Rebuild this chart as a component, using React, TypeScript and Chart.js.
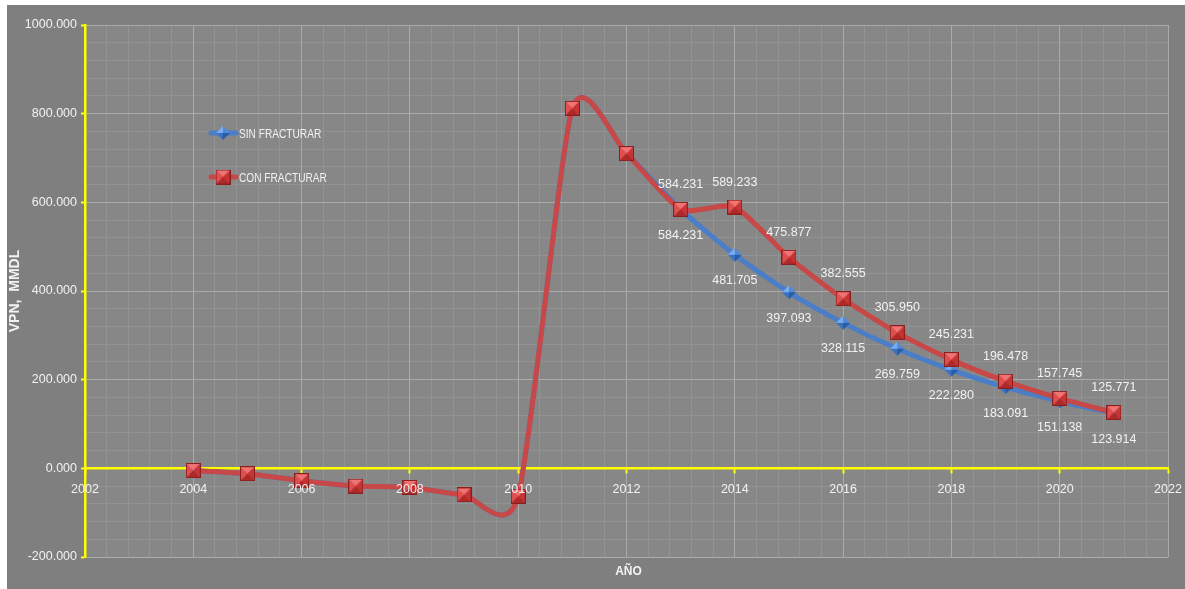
import React, { useEffect, useRef } from "react";
import { Chart, registerables } from "chart.js";
Chart.register(...registerables);

const years = [2004, 2005, 2006, 2007, 2008, 2009, 2010, 2011, 2012, 2013, 2014, 2015, 2016, 2017, 2018, 2019, 2020, 2021];
const sinFracturar = [-5, -12, -28, -40, -43, -60, -63, 812, 710, 584.231, 481.705, 397.093, 328.115, 269.759, 222.28, 183.091, 151.138, 123.914];
const conFracturar = [-5, -12, -28, -40, -43, -60, -63, 812, 710, 584.231, 589.233, 475.877, 382.555, 305.95, 245.231, 196.478, 157.745, 125.771];
const seriesNames = ["SIN FRACTURAR", "CON FRACTURAR"];
const labelFromYear = 2013;
const xMin = 2002, xMax = 2022, xStep = 2, xMinorStep = 0.4;
const yMin = -200, yMax = 1000, yStep = 200, yMinorStep = 40;
const xTitle = "AÑO";
const yTitle = "VPN,  MMDL";

const RED = "#c84848";
const BLUE = "#4a7ec8";
const YELLOW = "#ffff00";
const TEXT = "#f2f2f2";
const FONT = "'Liberation Sans', Arial, sans-serif";
const SMOOTH = 0.11; // Excel-like smoothing (uniform Catmull-Rom factor)

function makeSquare(): HTMLCanvasElement {
  const s = 15;
  const c = document.createElement("canvas");
  c.width = s; c.height = s;
  const g = c.getContext("2d")!;
  const m = s / 2;
  const tri = (pts: number[][], col: string) => {
    g.beginPath();
    g.moveTo(pts[0][0], pts[0][1]);
    for (let i = 1; i < pts.length; i++) g.lineTo(pts[i][0], pts[i][1]);
    g.closePath();
    g.fillStyle = col;
    g.fill();
  };
  tri([[0, 0], [s, 0], [m, m]], "#f27373");
  tri([[0, 0], [0, s], [m, m]], "#e04e4e");
  tri([[s, 0], [s, s], [m, m]], "#c83434");
  tri([[0, s], [s, s], [m, m]], "#b02828");
  g.strokeStyle = "#8a1f1f";
  g.lineWidth = 1;
  g.strokeRect(0.5, 0.5, s - 1, s - 1);
  return c;
}

function makeDiamond(): HTMLCanvasElement {
  const s = 14;
  const c = document.createElement("canvas");
  c.width = s; c.height = s;
  const g = c.getContext("2d")!;
  const m = s / 2;
  const tri = (pts: number[][], col: string) => {
    g.beginPath();
    g.moveTo(pts[0][0], pts[0][1]);
    for (let i = 1; i < pts.length; i++) g.lineTo(pts[i][0], pts[i][1]);
    g.closePath();
    g.fillStyle = col;
    g.fill();
  };
  tri([[m, 0], [0, m], [m, m]], "#78aef0");
  tri([[m, 0], [s, m], [m, m]], "#4f8ad8");
  tri([[0, m], [m, s], [m, m]], "#3a72c0");
  tri([[s, m], [m, s], [m, m]], "#2a5ca6");
  return c;
}

export default function App() {
  const ref = useRef<HTMLCanvasElement | null>(null);

  useEffect(() => {
    if (!ref.current) return;
    const square = makeSquare();
    const diamond = makeDiamond();

    const bgPlugin = {
      id: "bgPlugin",
      beforeDraw(chart: any) {
        const { ctx, chartArea, width, height } = chart;
        ctx.save();
        ctx.fillStyle = "#7f7f7f";
        ctx.fillRect(0, 0, width, height);
        ctx.fillStyle = "#878787";
        ctx.fillRect(chartArea.left, chartArea.top, chartArea.right - chartArea.left, chartArea.bottom - chartArea.top);
        ctx.restore();
      },
    };

    const smoothPlugin = {
      id: "smoothPlugin",
      beforeDatasetDraw(chart: any, args: any) {
        const meta = args.meta;
        const pts = meta.data;
        const n = pts.length;
        for (let i = 0; i < n; i++) {
          const p = pts[i];
          const prev = pts[Math.max(0, i - 1)];
          const next = pts[Math.min(n - 1, i + 1)];
          const dx = (next.x - prev.x) * SMOOTH;
          const dy = (next.y - prev.y) * SMOOTH;
          p.cp1x = p.x - dx;
          p.cp1y = p.y - dy;
          p.cp2x = p.x + dx;
          p.cp2y = p.y + dy;
        }
        if (meta.dataset) meta.dataset._pointsUpdated = true;
      },
    };

    const labelPlugin = {
      id: "labelPlugin",
      afterDatasetsDraw(chart: any) {
        const { ctx } = chart;
        ctx.save();
        ctx.font = `12.5px ${FONT}`;
        ctx.fillStyle = TEXT;
        ctx.textAlign = "center";
        ctx.textBaseline = "middle";
        chart.data.datasets.forEach((ds: any, di: number) => {
          const meta = chart.getDatasetMeta(di);
          meta.data.forEach((pt: any, i: number) => {
            const d = ds.data[i];
            if (d.x < labelFromYear) return;
            const off = ds.label === seriesNames[0] ? 26 : -25;
            ctx.fillText(d.y.toFixed(3), pt.x, pt.y + off);
          });
        });
        ctx.restore();
      },
      afterDraw(chart: any) {
        const { ctx, chartArea } = chart;
        ctx.save();
        // legend
        const items = [
          { name: seriesNames[0], color: BLUE, img: diamond },
          { name: seriesNames[1], color: RED, img: square },
        ];
        items.forEach((it, i) => {
          const lx = chartArea.left + 124;
          const ly = chartArea.top + 108 + i * 44;
          ctx.strokeStyle = it.color;
          ctx.lineWidth = 5;
          ctx.lineCap = "round";
          ctx.beginPath();
          ctx.moveTo(lx + 2, ly);
          ctx.lineTo(lx + 27, ly);
          ctx.stroke();
          ctx.drawImage(it.img, lx + 14 - it.img.width / 2, ly - it.img.height / 2);
          ctx.save();
          ctx.translate(lx + 30, ly + 1);
          ctx.scale(0.78, 1);
          ctx.font = `13px ${FONT}`;
          ctx.fillStyle = TEXT;
          ctx.textAlign = "left";
          ctx.textBaseline = "middle";
          ctx.fillText(it.name, 0, 0);
          ctx.restore();
        });
        // x title
        ctx.font = `bold 12px ${FONT}`;
        ctx.fillStyle = TEXT;
        ctx.textAlign = "center";
        ctx.textBaseline = "middle";
        ctx.fillText(xTitle, (chartArea.left + chartArea.right) / 2 + 2, chartArea.bottom + 15);
        ctx.restore();
      },
    };

    const chart = new Chart(ref.current, {
      type: "line",
      data: {
        datasets: [
          {
            label: seriesNames[0],
            data: years.map((x, i) => ({ x, y: sinFracturar[i] })),
            borderColor: BLUE,
            backgroundColor: BLUE,
            borderWidth: 5,
            tension: 0.4,
            pointStyle: diamond as any,
            pointRadius: 7,
            order: 2,
            xAxisID: "x",
            yAxisID: "y",
          },
          {
            label: seriesNames[1],
            data: years.map((x, i) => ({ x, y: conFracturar[i] })),
            borderColor: RED,
            backgroundColor: RED,
            borderWidth: 5,
            tension: 0.4,
            pointStyle: square as any,
            pointRadius: 8,
            order: 1,
            xAxisID: "x",
            yAxisID: "y",
          },
        ],
      },
      options: {
        animation: false,
        responsive: true,
        maintainAspectRatio: false,
        layout: { padding: { left: 0, top: 20, right: 17, bottom: 32 } },
        plugins: {
          legend: { display: false },
          tooltip: { enabled: false },
        },
        scales: {
          x: {
            type: "linear",
            position: { y: 0 } as any,
            min: xMin,
            max: xMax,
            afterFit: (s: any) => { s.paddingLeft = 0; s.paddingRight = 0; },
            grid: { color: "#aaaaaa", lineWidth: 1, tickLength: 4, tickColor: YELLOW, tickWidth: 2 },
            border: { color: YELLOW, width: 2.5 },
            ticks: {
              stepSize: xStep,
              color: TEXT,
              font: { size: 12.5, family: FONT },
              padding: 10,
              z: 1,
              callback: (v: any) => String(v),
            },
          },
          y: {
            type: "linear",
            position: "left",
            min: yMin,
            max: yMax,
            afterFit: (s: any) => { s.width = 78; },
            grid: { color: "#aaaaaa", lineWidth: 1, tickLength: 4, tickColor: YELLOW, tickWidth: 2 },
            border: { color: YELLOW, width: 2.5 },
            ticks: {
              stepSize: yStep,
              color: TEXT,
              font: { size: 12.5, family: FONT },
              padding: 4,
              callback: (v: any) => Number(v).toFixed(3),
            },
            title: {
              display: true,
              text: yTitle,
              color: TEXT,
              font: { size: 14, weight: "bold", family: FONT },
              padding: { top: 0, bottom: 0 },
            },
          },
          x2: {
            type: "linear",
            axis: "x",
            position: "bottom",
            min: xMin,
            max: xMax,
            afterFit: (s: any) => { s.height = 0; s.paddingLeft = 0; s.paddingRight = 0; },
            grid: { color: "#939393", lineWidth: 1, drawTicks: false, z: -2 },
            border: { display: false },
            ticks: { stepSize: xMinorStep, display: false },
          },
          y2: {
            type: "linear",
            axis: "y",
            position: "left",
            min: yMin,
            max: yMax,
            afterFit: (s: any) => { s.width = 0; },
            grid: { color: "#939393", lineWidth: 1, drawTicks: false, z: -2 },
            border: { display: false },
            ticks: { stepSize: yMinorStep, display: false },
          },
        } as any,
      },
      plugins: [bgPlugin, smoothPlugin, labelPlugin],
    } as any);

    return () => chart.destroy();
  }, []);

  return (
    <div style={{ position: "absolute", left: 7, top: 5, width: 1178, height: 584 }}>
      <canvas ref={ref} />
    </div>
  );
}
